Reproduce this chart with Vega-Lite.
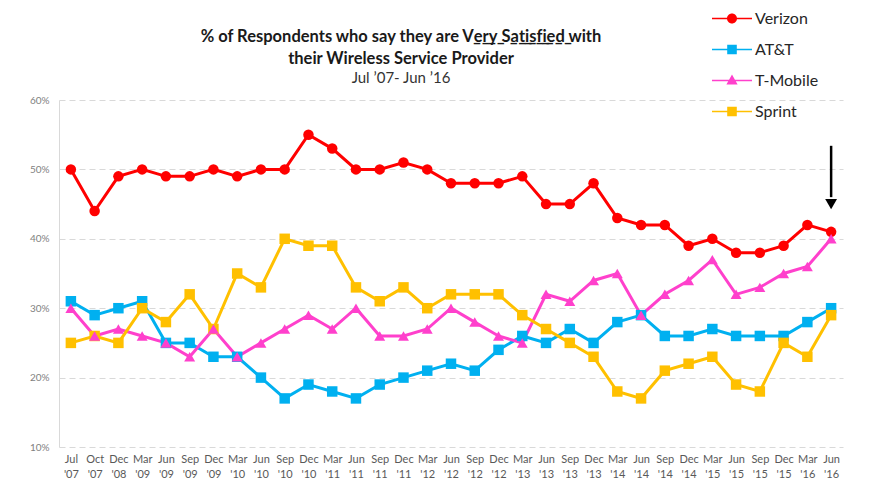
{
  "$schema": "https://vega.github.io/schema/vega-lite/v6.json",
  "autosize": {"type": "none"},
  "padding": {"left": 59, "top": 100, "right": 53, "bottom": 57},
  "width": 784,
  "height": 347,
  "background": "white",
  "config": {"font": "Lato", "view": {"stroke": null}},
  "title": {
    "text": ["% of Respondents who say they are V̲e̲r̲y̲ S̲a̲t̲i̲s̲f̲i̲e̲d̲ with", "their Wireless Service Provider"],
    "subtitle": "Jul ’07- Jun ’16",
    "anchor": "middle",
    "dx": -50,
    "dy": 95,
    "offset": 12,
    "fontSize": 16.5,
    "fontWeight": "bold",
    "color": "#1a1a1a",
    "lineHeight": 22,
    "subtitleFontSize": 15,
    "subtitleColor": "#333333",
    "subtitlePadding": 4,
    "subtitleLineHeight": 18
  },
  "datasets": {
    "survey": [
      {"m": "Jul '07", "c": "Verizon", "v": 50}, {"m": "Oct '07", "c": "Verizon", "v": 44}, {"m": "Dec '08", "c": "Verizon", "v": 49}, {"m": "Mar '09", "c": "Verizon", "v": 50}, {"m": "Jun '09", "c": "Verizon", "v": 49}, {"m": "Sep '09", "c": "Verizon", "v": 49}, {"m": "Dec '09", "c": "Verizon", "v": 50}, {"m": "Mar '10", "c": "Verizon", "v": 49}, {"m": "Jun '10", "c": "Verizon", "v": 50}, {"m": "Sep '10", "c": "Verizon", "v": 50}, {"m": "Dec '10", "c": "Verizon", "v": 55}, {"m": "Mar '11", "c": "Verizon", "v": 53}, {"m": "Jun '11", "c": "Verizon", "v": 50}, {"m": "Sep '11", "c": "Verizon", "v": 50}, {"m": "Dec '11", "c": "Verizon", "v": 51}, {"m": "Mar '12", "c": "Verizon", "v": 50}, {"m": "Jun '12", "c": "Verizon", "v": 48}, {"m": "Sep '12", "c": "Verizon", "v": 48}, {"m": "Dec '12", "c": "Verizon", "v": 48}, {"m": "Mar '13", "c": "Verizon", "v": 49}, {"m": "Jun '13", "c": "Verizon", "v": 45}, {"m": "Sep '13", "c": "Verizon", "v": 45}, {"m": "Dec '13", "c": "Verizon", "v": 48}, {"m": "Mar '14", "c": "Verizon", "v": 43}, {"m": "Jun '14", "c": "Verizon", "v": 42}, {"m": "Sep '14", "c": "Verizon", "v": 42}, {"m": "Dec '14", "c": "Verizon", "v": 39}, {"m": "Mar '15", "c": "Verizon", "v": 40}, {"m": "Jun '15", "c": "Verizon", "v": 38}, {"m": "Sep '15", "c": "Verizon", "v": 38}, {"m": "Dec '15", "c": "Verizon", "v": 39}, {"m": "Mar '16", "c": "Verizon", "v": 42}, {"m": "Jun '16", "c": "Verizon", "v": 41},
      {"m": "Jul '07", "c": "AT&T", "v": 31}, {"m": "Oct '07", "c": "AT&T", "v": 29}, {"m": "Dec '08", "c": "AT&T", "v": 30}, {"m": "Mar '09", "c": "AT&T", "v": 31}, {"m": "Jun '09", "c": "AT&T", "v": 25}, {"m": "Sep '09", "c": "AT&T", "v": 25}, {"m": "Dec '09", "c": "AT&T", "v": 23}, {"m": "Mar '10", "c": "AT&T", "v": 23}, {"m": "Jun '10", "c": "AT&T", "v": 20}, {"m": "Sep '10", "c": "AT&T", "v": 17}, {"m": "Dec '10", "c": "AT&T", "v": 19}, {"m": "Mar '11", "c": "AT&T", "v": 18}, {"m": "Jun '11", "c": "AT&T", "v": 17}, {"m": "Sep '11", "c": "AT&T", "v": 19}, {"m": "Dec '11", "c": "AT&T", "v": 20}, {"m": "Mar '12", "c": "AT&T", "v": 21}, {"m": "Jun '12", "c": "AT&T", "v": 22}, {"m": "Sep '12", "c": "AT&T", "v": 21}, {"m": "Dec '12", "c": "AT&T", "v": 24}, {"m": "Mar '13", "c": "AT&T", "v": 26}, {"m": "Jun '13", "c": "AT&T", "v": 25}, {"m": "Sep '13", "c": "AT&T", "v": 27}, {"m": "Dec '13", "c": "AT&T", "v": 25}, {"m": "Mar '14", "c": "AT&T", "v": 28}, {"m": "Jun '14", "c": "AT&T", "v": 29}, {"m": "Sep '14", "c": "AT&T", "v": 26}, {"m": "Dec '14", "c": "AT&T", "v": 26}, {"m": "Mar '15", "c": "AT&T", "v": 27}, {"m": "Jun '15", "c": "AT&T", "v": 26}, {"m": "Sep '15", "c": "AT&T", "v": 26}, {"m": "Dec '15", "c": "AT&T", "v": 26}, {"m": "Mar '16", "c": "AT&T", "v": 28}, {"m": "Jun '16", "c": "AT&T", "v": 30},
      {"m": "Jul '07", "c": "T-Mobile", "v": 30}, {"m": "Oct '07", "c": "T-Mobile", "v": 26}, {"m": "Dec '08", "c": "T-Mobile", "v": 27}, {"m": "Mar '09", "c": "T-Mobile", "v": 26}, {"m": "Jun '09", "c": "T-Mobile", "v": 25}, {"m": "Sep '09", "c": "T-Mobile", "v": 23}, {"m": "Dec '09", "c": "T-Mobile", "v": 27}, {"m": "Mar '10", "c": "T-Mobile", "v": 23}, {"m": "Jun '10", "c": "T-Mobile", "v": 25}, {"m": "Sep '10", "c": "T-Mobile", "v": 27}, {"m": "Dec '10", "c": "T-Mobile", "v": 29}, {"m": "Mar '11", "c": "T-Mobile", "v": 27}, {"m": "Jun '11", "c": "T-Mobile", "v": 30}, {"m": "Sep '11", "c": "T-Mobile", "v": 26}, {"m": "Dec '11", "c": "T-Mobile", "v": 26}, {"m": "Mar '12", "c": "T-Mobile", "v": 27}, {"m": "Jun '12", "c": "T-Mobile", "v": 30}, {"m": "Sep '12", "c": "T-Mobile", "v": 28}, {"m": "Dec '12", "c": "T-Mobile", "v": 26}, {"m": "Mar '13", "c": "T-Mobile", "v": 25}, {"m": "Jun '13", "c": "T-Mobile", "v": 32}, {"m": "Sep '13", "c": "T-Mobile", "v": 31}, {"m": "Dec '13", "c": "T-Mobile", "v": 34}, {"m": "Mar '14", "c": "T-Mobile", "v": 35}, {"m": "Jun '14", "c": "T-Mobile", "v": 29}, {"m": "Sep '14", "c": "T-Mobile", "v": 32}, {"m": "Dec '14", "c": "T-Mobile", "v": 34}, {"m": "Mar '15", "c": "T-Mobile", "v": 37}, {"m": "Jun '15", "c": "T-Mobile", "v": 32}, {"m": "Sep '15", "c": "T-Mobile", "v": 33}, {"m": "Dec '15", "c": "T-Mobile", "v": 35}, {"m": "Mar '16", "c": "T-Mobile", "v": 36}, {"m": "Jun '16", "c": "T-Mobile", "v": 40},
      {"m": "Jul '07", "c": "Sprint", "v": 25}, {"m": "Oct '07", "c": "Sprint", "v": 26}, {"m": "Dec '08", "c": "Sprint", "v": 25}, {"m": "Mar '09", "c": "Sprint", "v": 30}, {"m": "Jun '09", "c": "Sprint", "v": 28}, {"m": "Sep '09", "c": "Sprint", "v": 32}, {"m": "Dec '09", "c": "Sprint", "v": 27}, {"m": "Mar '10", "c": "Sprint", "v": 35}, {"m": "Jun '10", "c": "Sprint", "v": 33}, {"m": "Sep '10", "c": "Sprint", "v": 40}, {"m": "Dec '10", "c": "Sprint", "v": 39}, {"m": "Mar '11", "c": "Sprint", "v": 39}, {"m": "Jun '11", "c": "Sprint", "v": 33}, {"m": "Sep '11", "c": "Sprint", "v": 31}, {"m": "Dec '11", "c": "Sprint", "v": 33}, {"m": "Mar '12", "c": "Sprint", "v": 30}, {"m": "Jun '12", "c": "Sprint", "v": 32}, {"m": "Sep '12", "c": "Sprint", "v": 32}, {"m": "Dec '12", "c": "Sprint", "v": 32}, {"m": "Mar '13", "c": "Sprint", "v": 29}, {"m": "Jun '13", "c": "Sprint", "v": 27}, {"m": "Sep '13", "c": "Sprint", "v": 25}, {"m": "Dec '13", "c": "Sprint", "v": 23}, {"m": "Mar '14", "c": "Sprint", "v": 18}, {"m": "Jun '14", "c": "Sprint", "v": 17}, {"m": "Sep '14", "c": "Sprint", "v": 21}, {"m": "Dec '14", "c": "Sprint", "v": 22}, {"m": "Mar '15", "c": "Sprint", "v": 23}, {"m": "Jun '15", "c": "Sprint", "v": 19}, {"m": "Sep '15", "c": "Sprint", "v": 18}, {"m": "Dec '15", "c": "Sprint", "v": 25}, {"m": "Mar '16", "c": "Sprint", "v": 23}, {"m": "Jun '16", "c": "Sprint", "v": 29}
    ],
    "arrow": [{"m": "Jun '16", "top": 53.4, "bot": 46, "tip": 45.0}]
  },
  "encoding": {
    "x": {
      "field": "m", "type": "ordinal",
      "scale": {
        "type": "point", "padding": 0.5,
        "domain": ["Jul '07","Oct '07","Dec '08","Mar '09","Jun '09","Sep '09","Dec '09","Mar '10","Jun '10","Sep '10","Dec '10","Mar '11","Jun '11","Sep '11","Dec '11","Mar '12","Jun '12","Sep '12","Dec '12","Mar '13","Jun '13","Sep '13","Dec '13","Mar '14","Jun '14","Sep '14","Dec '14","Mar '15","Jun '15","Sep '15","Dec '15","Mar '16","Jun '16"]
      },
      "axis": {
        "title": null, "domain": false, "ticks": false, "labelAngle": 0,
        "labelExpr": "split(datum.label, ' ')", "labelFontSize": 11, "labelColor": "#595959",
        "labelPadding": 6, "labelLineHeight": 15, "labelBaseline": "top"
      }
    },
    "y": {
      "field": "v", "type": "quantitative",
      "scale": {"domain": [10, 60], "nice": false, "zero": false},
      "axis": {
        "title": null, "values": [10, 20, 30, 40, 50, 60], "labelExpr": "datum.value + '%'",
        "grid": true, "gridDash": [6, 4], "gridColor": "#D9D9D9", "gridWidth": 1.2,
        "domain": true, "domainColor": "#D9D9D9", "ticks": false,
        "labelFontSize": 10, "labelColor": "#7F7F7F", "labelPadding": 10
      }
    },
    "color": {
      "field": "c", "type": "nominal",
      "scale": {"domain": ["Verizon", "AT&T", "T-Mobile", "Sprint"], "range": ["#FF0000", "#00B0F0", "#FF40CC", "#FFC000"]},
      "legend": {
        "title": null, "orient": "none", "legendX": 653, "legendY": -97, "padding": 0,
        "symbolSize": 1600, "clipHeight": 31, "rowPadding": 0, "labelFontSize": 16, "labelColor": "#262626",
        "labelOffset": 3, "symbolOpacity": 1, "symbolStrokeWidth": 0,
        "encode": {"symbols": {"update": {"fill": {"scale": "color", "field": "value"}, "stroke": {"value": "transparent"}, "strokeWidth": {"value": 0}, "opacity": {"value": 1}, "fillOpacity": {"value": 1}}}}
      }
    }
  },
  "layer": [
    {
      "data": {"name": "survey"},
      "mark": {"type": "line", "strokeWidth": 3}
    },
    {
      "data": {"name": "survey"},
      "transform": [{"filter": "datum.c === 'Verizon'"}],
      "mark": {"type": "point", "shape": "circle", "filled": true, "opacity": 1, "size": 110}
    },
    {
      "data": {"name": "survey"},
      "transform": [{"filter": "datum.c === 'AT&T' || datum.c === 'Sprint'"}],
      "mark": {"type": "point", "shape": "square", "filled": true, "opacity": 1, "size": 110}
    },
    {
      "data": {"name": "survey"},
      "transform": [{"filter": "datum.c === 'T-Mobile'"}],
      "mark": {"type": "point", "shape": "triangle-up", "filled": true, "opacity": 1, "size": 120}
    },
    {
      "data": {"name": "survey"},
      "mark": {"type": "point", "filled": true, "opacity": 0},
      "encoding": {
        "shape": {
          "field": "c", "type": "nominal",
          "scale": {
            "domain": ["Verizon", "AT&T", "T-Mobile", "Sprint"],
            "range": [
              "M-1,-0.0375H1V0.0375H-1Z M-0.25,0A0.25,0.25 0 1,1 0.25,0A0.25,0.25 0 1,1 -0.25,0Z",
              "M-1,-0.0375H1V0.0375H-1Z M-0.24,-0.24H0.24V0.24H-0.24Z",
              "M-1,-0.0375H1V0.0375H-1Z M0,-0.3L0.28,0.2L-0.28,0.2Z",
              "M-1,-0.0375H1V0.0375H-1Z M-0.24,-0.24H0.24V0.24H-0.24Z"
            ]
          },
          "legend": {
            "title": null, "orient": "none", "legendX": 653, "legendY": -97, "padding": 0,
            "symbolSize": 1600, "clipHeight": 31, "rowPadding": 0, "labelFontSize": 16, "labelColor": "#262626",
            "labelOffset": 3, "symbolOpacity": 1, "symbolStrokeWidth": 0,
            "encode": {"symbols": {"update": {"fill": {"scale": "color", "field": "value"}, "stroke": {"value": "transparent"}, "strokeWidth": {"value": 0}, "opacity": {"value": 1}, "fillOpacity": {"value": 1}}}}
          }
        }
      }
    },
    {
      "data": {"name": "arrow"},
      "mark": {"type": "rule", "color": "black", "strokeWidth": 2.5},
      "encoding": {"y": {"field": "top", "type": "quantitative"}, "y2": {"field": "bot"}, "color": null}
    },
    {
      "data": {"name": "arrow"},
      "mark": {"type": "point", "shape": "triangle-down", "filled": true, "color": "black", "size": 140, "opacity": 1},
      "encoding": {"y": {"field": "tip", "type": "quantitative"}, "color": null}
    }
  ]
}
